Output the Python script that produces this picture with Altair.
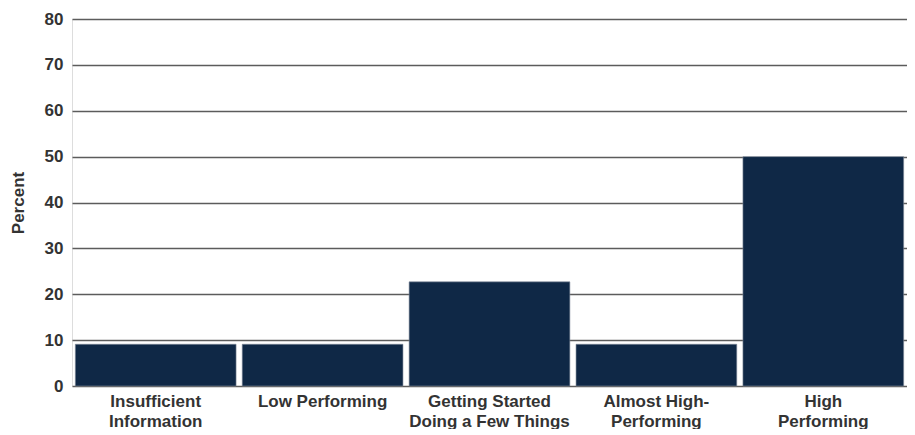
import altair as alt
import pandas as pd

categories = [
    "Insufficient\nInformation",
    "Low Performing",
    "Getting Started\nDoing a Few Things",
    "Almost High-\nPerforming",
    "High\nPerforming",
]
percents = [9.1, 9.1, 22.7, 9.1, 50.0]
y_ticks = [0, 10, 20, 30, 40, 50, 60, 70, 80]

df = pd.DataFrame({"category": categories, "percent": percents})

FONT = "Liberation Sans"

chart = (
    alt.Chart(df)
    .mark_bar(color="#0f2846", stroke="#7f8a99", strokeWidth=0.6)
    .encode(
        x=alt.X(
            "category:N",
            sort=categories,
            scale=alt.Scale(paddingInner=0.037, paddingOuter=0.02),
            axis=alt.Axis(
                title=None,
                labelAngle=0,
                labelExpr="split(datum.label, '\\n')",
                labelFont=FONT,
                labelFontSize=17,
                labelFontWeight="bold",
                labelColor="#333333",
                labelLineHeight=20,
                labelPadding=7,
                labelBaseline="top",
                domain=False,
                ticks=False,
                grid=False,
            ),
        ),
        y=alt.Y(
            "percent:Q",
            scale=alt.Scale(domain=[0, 80], nice=False),
            axis=alt.Axis(
                title="Percent",
                values=y_ticks,
                titleFont=FONT,
                titleFontSize=17,
                titleFontWeight="bold",
                titleColor="#333333",
                titlePadding=17,
                labelFont=FONT,
                labelFontSize=17,
                labelFontWeight="bold",
                labelColor="#333333",
                labelPadding=9,
                domain=False,
                ticks=False,
                grid=True,
                gridColor="#5c5c5c",
                gridWidth=1.5,
            ),
        ),
    )
    .properties(
        width=835,
        height=367,
        autosize=alt.AutoSizeParams(type="none"),
        padding={"left": 64, "top": 11, "right": 0, "bottom": 43},
    )
    .configure_view(stroke=None)
    .configure(background="white")
)

chart.save("out.html", embed_options={"renderer": "svg", "actions": False})
